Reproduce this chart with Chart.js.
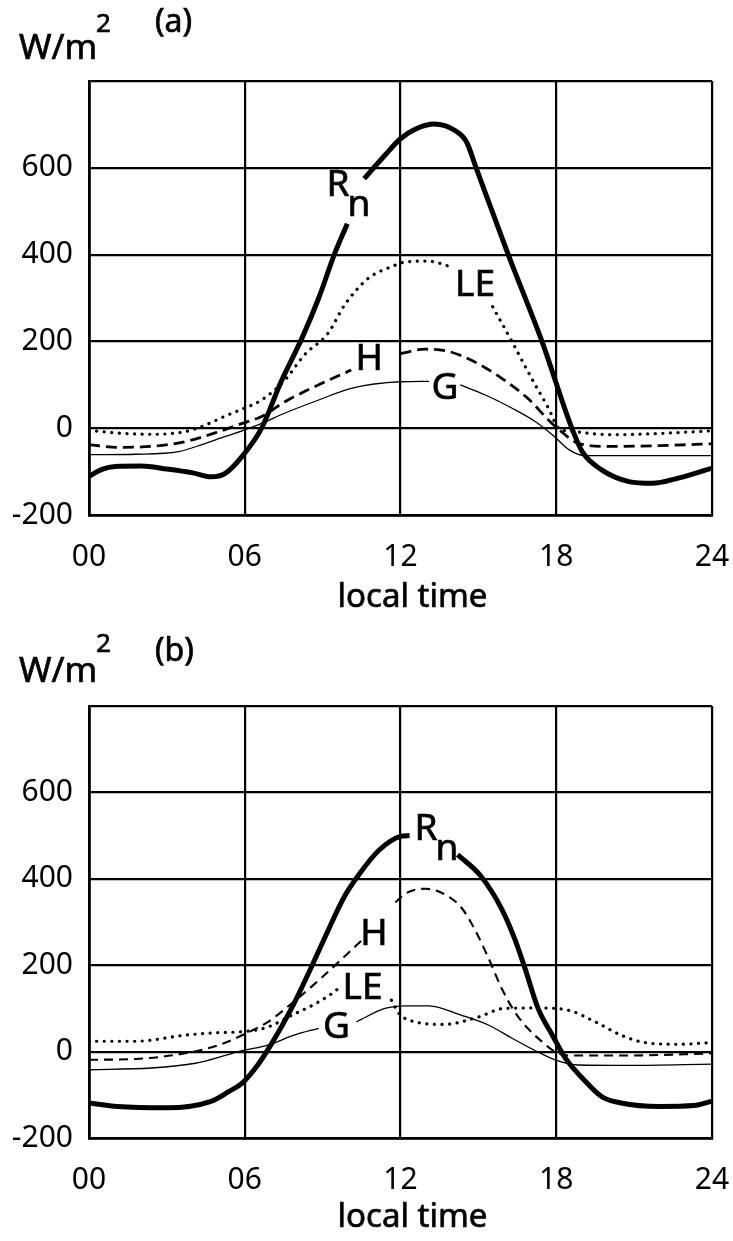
<!DOCTYPE html>
<html>
<head>
<meta charset="utf-8">
<title>Surface energy balance (a) and (b)</title>
<script src="https://cdn.jsdelivr.net/npm/chart.js@4.4.1/dist/chart.umd.min.js"></script>
<style>
  body { margin: 0; background: #fff; }
  canvas { display: block; }
</style>
</head>
<body>
<canvas id="chartA" width="733" height="620"></canvas>
<canvas id="chartB" width="733" height="621"></canvas>
<script>
// tick labels
var xTickLabels = ['00', '06', '12', '18', '24'];
var yTickLabels = ['-200', '0', '200', '400', '600', ''];

// panel (a) - hours and W/m2 (null = gap left for the curve label)
var rnA_t = [0, 0.5, 1, 2, 3, 4, 4.7, 5.25, 5.9, 6.65, 7.4, 8.2, 8.85, 9.45, 9.95, 10.3, 10.6, 11.4, 12, 12.6, 13.3, 14.1, 14.55, 14.9, 16.15, 17.45, 18.6, 19, 19.75, 20.8, 21.7, 22.7, 24];
var rnA_v = [-111, -95, -88, -87, -94, -103, -112, -104, -65, 0, 107, 207, 300, 400, 471, null, 575, 629, 667, 690, 701, 686, 659, 602, 400, 200, 0, -54, -96, -123, -127, -115, -92];
var leA_t = [0, 1.1, 2.4, 3.7, 4.35, 5.25, 5.9, 6.65, 7.55, 8.3, 9.2, 9.85, 10.75, 11.65, 12.2, 13.05, 13.95, 14.8, 15.55, 16.3, 17.05, 17.7, 18.1, 18.7, 20.1, 22, 24];
var leA_v = [-5, -11, -14, -8, 4, 28, 44, 65, 111, 169, 218, 284, 345, 372, 383, 385, 372, null, 280, 199, 115, 46, 0, -8, -15, -12, -6];
var hA_t = [0, 1.1, 2.4, 3.7, 5, 5.9, 6.65, 7.55, 8.85, 10.1, 11, 12, 12.95, 13.85, 14.85, 15.9, 16.9, 17.7, 18.2, 18.85, 20.1, 22, 24];
var hA_v = [-38, -44, -42, -31, -8, 11, 27, 61, 100, 134, null, 172, 182, 177, 153, 115, 69, 19, -8, -35, -42, -40, -36];
var gA_t = [0, 1.8, 3.45, 4.35, 5.25, 5.9, 6.65, 7.55, 8.85, 10.1, 12, 13.1, 13.6, 14.3, 15.25, 16.3, 17.2, 17.85, 18.5, 19.1, 21, 24];
var gA_v = [-61, -60, -54, -38, -19, -6, 11, 35, 65, 92, 107, 108, null, 100, 77, 46, 15, -15, -50, -63, -63, -63];

// panel (b)
var rnB_t = [0, 1.1, 3, 4.7, 5.4, 5.9, 6.5, 7, 7.8, 8.6, 9.1, 9.85, 10.4, 11.15, 12, 12.35, 13.3, 14.2, 15.1, 15.9, 16.4, 16.8, 17.3, 17.85, 18.35, 19, 19.75, 20.5, 22, 23.3, 24];
var rnB_v = [-119, -127, -130, -115, -92, -73, -31, 15, 100, 200, 266, 360, 410, 465, 498, 500, null, 456, 406, 330, 261, 192, 100, 38, -15, -61, -104, -119, -127, -125, -115];
var hB_t = [0, 1.8, 3.7, 5, 5.9, 6.9, 7.8, 8.85, 9.75, 10.5, 11.2, 11.8, 12.2, 12.95, 13.7, 14.35, 14.85, 15.4, 15.9, 16.4, 16.9, 17.45, 17.95, 18.45, 20.8, 24];
var hB_v = [-19, -17, -4, 15, 38, 69, 111, 165, 215, 257, null, 345, 366, 377, 364, 333, 284, 215, 146, 92, 54, 23, 0, -9, -9, -4];
var leB_t = [0, 1.8, 3.7, 5, 5.9, 6.9, 7.8, 8.6, 9.35, 9.75, 10.7, 11.65, 11.95, 12.55, 13.7, 15, 16, 17.3, 18.45, 19.5, 20.5, 21.4, 22.7, 24];
var leB_v = [24, 24, 38, 44, 46, 57, 84, 107, 134, 153, null, 119, 88, 69, 63, 80, 100, 101, 96, 69, 38, 21, 17, 21];
var gB_t = [0, 2.4, 4.1, 5.25, 5.9, 6.9, 7.9, 8.85, 9.6, 10.3, 11.4, 12.2, 13.1, 14.35, 15.4, 16.3, 17.2, 17.95, 18.85, 20.8, 24];
var gB_v = [-42, -38, -27, -9, 2, 15, 38, 54, null, 69, 100, 106, 106, 84, 61, 31, 2, -19, -31, -32, -29];

// curve names, placed in data units
var labelsA = [
  { text: 'R', sub: 'n', t: 9.59, v: 560 },
  { text: 'LE', t: 14.87, v: 328 },
  { text: 'H', t: 10.79, v: 158 },
  { text: 'G', t: 13.71, v: 92 }
];
var labelsB = [
  { text: 'R', sub: 'n', t: 12.98, v: 515 },
  { text: 'H', t: 10.98, v: 272 },
  { text: 'LE', t: 10.54, v: 146 },
  { text: 'G', t: 9.53, v: 56 }
];

function pts(t, v) {
  return t.map(function (x, i) { return { x: x, y: v[i] }; });
}

var FONT = '"Noto Sans", sans-serif';

// draws text both filled and lightly stroked, the scan has heavy letters
function heavyText(ctx, s, x, y) {
  ctx.fillText(s, x, y);
  ctx.strokeText(s, x, y);
}

var textPlugin = {
  id: 'textPlugin',
  afterDatasetsDraw: function (chart, args, opts) {
    var ctx = chart.ctx, xs = chart.scales.x, ys = chart.scales.y;
    ctx.save();
    ctx.fillStyle = '#000';
    ctx.strokeStyle = '#000';
    ctx.lineWidth = 0.7;
    ctx.textAlign = 'center';
    ctx.textBaseline = 'middle';
    ctx.font = '37px ' + FONT;
    opts.labels.forEach(function (l) {
      var px = xs.getPixelForValue(l.t), py = ys.getPixelForValue(l.v);
      heavyText(ctx, l.text, px, py);
      if (l.sub) heavyText(ctx, l.sub, px + 21, py + 20);
    });
    // unit and panel letter
    ctx.textAlign = 'left';
    ctx.textBaseline = 'alphabetic';
    ctx.font = '35px ' + FONT;
    heavyText(ctx, 'W/m', 19, opts.unitY);
    ctx.font = '26px ' + FONT;
    heavyText(ctx, '2', 96, 32);
    ctx.font = '32px ' + FONT;
    heavyText(ctx, opts.panel, 155, opts.panelY);
    // axis title
    ctx.textAlign = 'center';
    ctx.font = '33px ' + FONT;
    heavyText(ctx, 'local time', xs.getPixelForValue(12) + 12, 607);
    ctx.restore();
  }
};

function makeChart(id, d, labels, panel, layout) {
  return new Chart(document.getElementById(id), {
    type: 'line',
    data: {
      datasets: [
        { label: 'G', data: pts(d.gt, d.gv), borderColor: '#000', borderWidth: 1.3 },
        { label: 'H', data: pts(d.ht, d.hv), borderColor: '#000', borderWidth: layout.hWidth, borderDash: layout.hDash },
        { label: 'LE', data: pts(d.lt, d.lv), borderColor: '#000', borderWidth: 3.2, borderDash: [0.1, 7.5], borderCapStyle: 'round' },
        { label: 'Rn', data: pts(d.rt, d.rv), borderColor: '#000', borderWidth: 5 }
      ]
    },
    options: {
      responsive: false,
      animation: false,
      devicePixelRatio: 1,
      spanGaps: false,
      elements: {
        point: { radius: 0 },
        line: { cubicInterpolationMode: 'monotone', fill: false }
      },
      layout: { padding: { top: layout.top, right: 21, bottom: 0, left: 0 } },
      scales: {
        x: {
          type: 'linear',
          min: 0, max: 24,
          afterFit: function (s) {
            s.height = layout.xHeight;
            s.paddingLeft = 0;
            s.paddingRight = 0;
          },
          ticks: {
            stepSize: 6,
            padding: 24,
            color: '#000',
            font: { size: 30, family: FONT },
            callback: function (val, i) { return xTickLabels[i]; }
          },
          grid: { color: '#000', lineWidth: 2.2, drawTicks: false },
          border: { color: '#000', width: 2.8 }
        },
        y: {
          min: -200, max: 800,
          afterFit: function (s) {
            s.width = 89;
            s.paddingTop = 0;
            s.paddingBottom = 0;
          },
          ticks: {
            stepSize: 200,
            padding: 16,
            color: '#000',
            font: { size: 30, family: FONT },
            callback: function (val, i) { return yTickLabels[i]; }
          },
          grid: { color: '#000', lineWidth: 2.2, drawTicks: false },
          border: { color: '#000', width: 2.8 }
        }
      },
      plugins: {
        legend: { display: false },
        tooltip: { enabled: false },
        textPlugin: { labels: labels, panel: panel, unitY: layout.unitY, panelY: layout.panelY }
      }
    },
    plugins: [textPlugin]
  });
}

makeChart('chartA',
  { rt: rnA_t, rv: rnA_v, lt: leA_t, lv: leA_v, ht: hA_t, hv: hA_v, gt: gA_t, gv: gA_v },
  labelsA, '(a)', { top: 81, xHeight: 105, unitY: 59, panelY: 32, hWidth: 2.8, hDash: [11, 6] });

makeChart('chartB',
  { rt: rnB_t, rv: rnB_v, lt: leB_t, lv: leB_v, ht: hB_t, hv: hB_v, gt: gB_t, gv: gB_v },
  labelsB, '(b)', { top: 86, xHeight: 103, unitY: 62, panelY: 41, hWidth: 2.1, hDash: [9, 6] });
</script>
</body>
</html>
